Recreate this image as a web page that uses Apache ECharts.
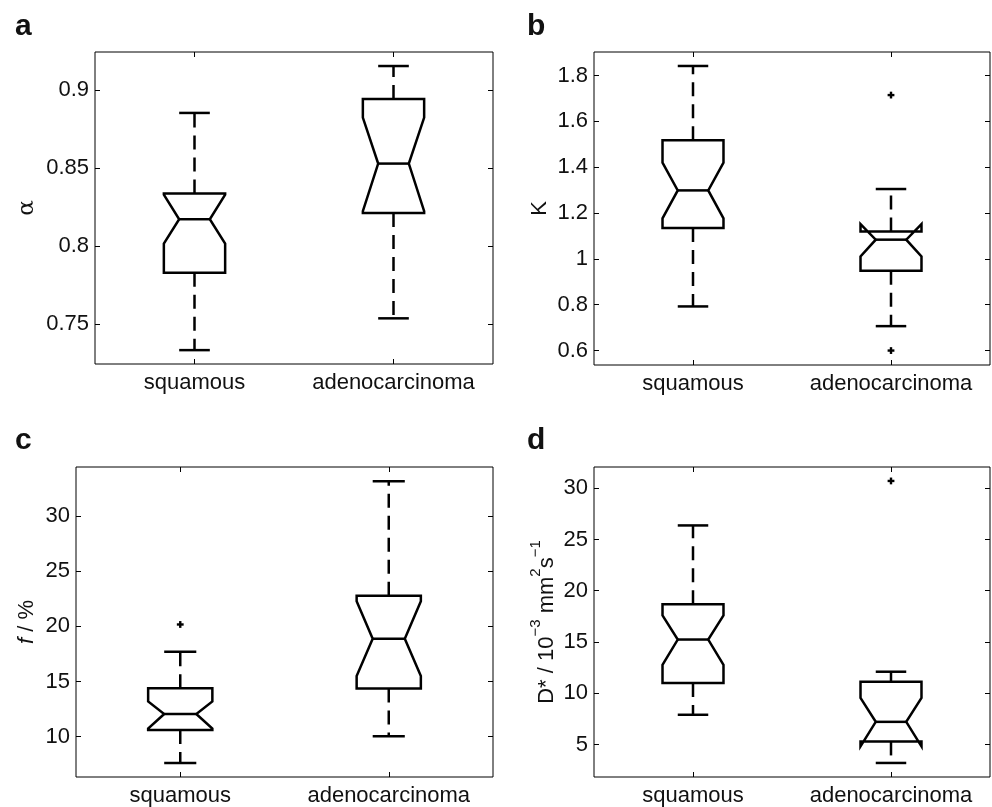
<!DOCTYPE html>
<html>
<head>
<meta charset="utf-8">
<script src="https://cdn.jsdelivr.net/npm/echarts@6/dist/echarts.min.js"></script>
<style>
html,body{margin:0;padding:0;background:#fff;}
#main{width:992px;height:807px;}
</style>
</head>
<body>
<div id="main"></div>
<script>
// categories
const categories = ['squamous', 'adenocarcinoma'];

// box stats per group: [whiskerLow, q1, notchLow, median, notchHigh, q3, whiskerHigh]
const alphaSquamous = [0.7333, 0.7829, 0.8017, 0.8173, 0.8330, 0.8338, 0.8855];
const alphaAdeno    = [0.7537, 0.8213, 0.8225, 0.8530, 0.8825, 0.8944, 0.9156];
const alphaOutliers = [];

const kSquamous = [0.7926, 1.1345, 1.177, 1.299, 1.420, 1.5175, 1.842];
const kAdeno    = [0.7066, 0.9485, 1.011, 1.084, 1.152, 1.120, 1.305];
const kOutliers = [[1, 1.715], [1, 0.600]];

const fSquamous = [7.6, 10.6, 10.74, 12.05, 13.19, 14.39, 17.7];
const fAdeno    = [10.03, 14.36, 15.5, 18.87, 22.27, 22.78, 33.16];
const fOutliers = [[0, 20.17]];

const dSquamous = [7.9, 11.0, 12.78, 15.24, 17.6, 18.67, 26.37];
const dAdeno    = [3.2, 5.3, 4.82, 7.21, 9.54, 11.13, 12.1];
const dOutliers = [[1, 30.71]];

// axis ranges and ticks
const alphaRange = [0.7244, 0.9246];
const alphaTicks = [0.75, 0.8, 0.85, 0.9];
const alphaTickLabels = ['0.75', '0.8', '0.85', '0.9'];

const kRange = [0.537, 1.903];
const kTicks = [0.6, 0.8, 1.0, 1.2, 1.4, 1.6, 1.8];
const kTickLabels = ['0.6', '0.8', '1', '1.2', '1.4', '1.6', '1.8'];

const fRange = [6.34, 34.45];
const fTicks = [10, 15, 20, 25, 30];
const fTickLabels = ['10', '15', '20', '25', '30'];

const dRange = [1.83, 32.07];
const dTicks = [5, 10, 15, 20, 25, 30];
const dTickLabels = ['5', '10', '15', '20', '25', '30'];

const FONT = 'Liberation Sans, Arial, Helvetica, sans-serif';
const INK = '#111';

const panels = [
  { letter: 'a', grid: {left: 95, top: 52, width: 398, height: 312}, letterPos: {left: 15, top: 12},
    boxes: [alphaSquamous, alphaAdeno], outliers: alphaOutliers, range: alphaRange, ticks: alphaTicks, labels: alphaTickLabels,
    name: 'α', nameGap: 56, nameStyle: {fontFamily: 'DejaVu Serif, Liberation Serif, serif', fontSize: 23, color: INK} },
  { letter: 'b', grid: {left: 594, top: 52, width: 396, height: 313}, letterPos: {left: 527, top: 12},
    boxes: [kSquamous, kAdeno], outliers: kOutliers, range: kRange, ticks: kTicks, labels: kTickLabels,
    name: 'K', nameGap: 43, nameStyle: {fontFamily: FONT, fontSize: 22, color: INK} },
  { letter: 'c', grid: {left: 76, top: 467, width: 417, height: 311}, letterPos: {left: 15, top: 426},
    boxes: [fSquamous, fAdeno], outliers: fOutliers, range: fRange, ticks: fTicks, labels: fTickLabels,
    name: '{i|f}{n| / %}', nameGap: 38,
    nameStyle: {fontFamily: FONT, fontSize: 22, color: INK,
      rich: {i: {fontStyle: 'italic', fontFamily: FONT, fontSize: 22, color: INK}, n: {fontFamily: FONT, fontSize: 22, color: INK}}} },
  { letter: 'd', grid: {left: 594, top: 467, width: 396, height: 311}, letterPos: {left: 527, top: 426},
    boxes: [dSquamous, dAdeno], outliers: dOutliers, range: dRange, ticks: dTicks, labels: dTickLabels,
    name: '{n|D* / 10}{s|−3}{n| mm}{s|2}{n|s}{s|−1}', nameGap: 36,
    nameStyle: {fontFamily: FONT, fontSize: 22, color: INK,
      rich: {n: {fontFamily: FONT, fontSize: 22, lineHeight: 30, color: INK, verticalAlign: 'bottom'},
             s: {fontFamily: FONT, fontSize: 15, lineHeight: 15, color: INK, verticalAlign: 'top'}}} }
];

function renderBox(params, api) {
  const c = api.value(0);
  const cx = api.coord([c, api.value(4)])[0];
  const y = k => api.coord([c, api.value(k)])[1];
  const wlo = y(1), q1 = y(2), nlo = y(3), med = y(4), nhi = y(5), q3 = y(6), whi = y(7);
  const band = api.size([1, 0])[0];
  const hw = band * 0.154;
  const solid = {stroke: '#000', lineWidth: 2.5, fill: 'none'};
  const dashed = {stroke: '#000', lineWidth: 2.5, fill: 'none', lineDash: [14, 8]};
  return {
    type: 'group',
    children: [
      {type: 'line', shape: {x1: cx, y1: q3, x2: cx, y2: whi}, style: dashed},
      {type: 'line', shape: {x1: cx, y1: q1, x2: cx, y2: wlo}, style: dashed},
      {type: 'line', shape: {x1: cx - hw / 2, y1: whi, x2: cx + hw / 2, y2: whi}, style: solid},
      {type: 'line', shape: {x1: cx - hw / 2, y1: wlo, x2: cx + hw / 2, y2: wlo}, style: solid},
      {type: 'polygon', shape: {points: [
        [cx - hw, q1], [cx - hw, nlo], [cx - hw / 2, med], [cx - hw, nhi], [cx - hw, q3],
        [cx + hw, q3], [cx + hw, nhi], [cx + hw / 2, med], [cx + hw, nlo], [cx + hw, q1]
      ]}, style: Object.assign({lineJoin: 'miter'}, solid)},
      {type: 'line', shape: {x1: cx - hw / 2, y1: med, x2: cx + hw / 2, y2: med}, style: solid}
    ]
  };
}

function renderPlus(params, api) {
  const p = api.coord([api.value(0), api.value(1)]);
  const s = 3.4;
  const st = {stroke: '#000', lineWidth: 2.4};
  return {
    type: 'group',
    children: [
      {type: 'line', shape: {x1: p[0] - s, y1: p[1], x2: p[0] + s, y2: p[1]}, style: st},
      {type: 'line', shape: {x1: p[0], y1: p[1] - s, x2: p[0], y2: p[1] + s}, style: st}
    ]
  };
}

const option = {
  animation: false,
  backgroundColor: '#fff',
  textStyle: {fontFamily: FONT},
  title: [], grid: [], xAxis: [], yAxis: [], series: []
};

panels.forEach((p, i) => {
  option.title.push({text: p.letter, left: p.letterPos.left, top: p.letterPos.top, padding: 0,
    textStyle: {fontFamily: FONT, fontSize: 30, fontWeight: 'bold', color: INK}});
  option.grid.push(Object.assign({show: true, borderColor: '#000', borderWidth: 1, backgroundColor: 'transparent', containLabel: false}, p.grid));
  const fmt = v => { const k = p.ticks.findIndex(t => Math.abs(t - v) < 1e-9); return k >= 0 ? p.labels[k] : ''; };
  // bottom x
  option.xAxis.push({type: 'category', gridIndex: i, data: categories, position: 'bottom',
    axisLine: {show: false}, splitLine: {show: false},
    axisTick: {show: true, inside: true, alignWithLabel: true, interval: 0, length: 5, lineStyle: {color: '#000'}},
    axisLabel: {show: true, interval: 0, hideOverlap: false, color: INK, fontFamily: FONT, fontSize: 22, margin: 8}});
  // top x
  option.xAxis.push({type: 'category', gridIndex: i, data: categories, position: 'top',
    axisLine: {show: false}, splitLine: {show: false},
    axisTick: {show: true, inside: true, alignWithLabel: true, interval: 0, length: 5, lineStyle: {color: '#000'}},
    axisLabel: {show: false, interval: 0}});
  // left y
  option.yAxis.push({type: 'value', gridIndex: i, position: 'left', min: p.range[0], max: p.range[1],
    name: p.name, nameLocation: 'middle', nameGap: p.nameGap, nameTextStyle: p.nameStyle,
    axisLine: {show: false}, splitLine: {show: false},
    axisTick: {show: true, inside: true, length: 5, customValues: p.ticks, lineStyle: {color: '#000'}},
    axisLabel: {show: true, color: INK, fontFamily: FONT, fontSize: 22, margin: 6, customValues: p.ticks, formatter: fmt}});
  // right y
  option.yAxis.push({type: 'value', gridIndex: i, position: 'right', min: p.range[0], max: p.range[1],
    axisLine: {show: false}, splitLine: {show: false},
    axisTick: {show: true, inside: true, length: 5, customValues: p.ticks, lineStyle: {color: '#000'}},
    axisLabel: {show: false, customValues: p.ticks}});
  option.series.push({type: 'custom', xAxisIndex: 2 * i, yAxisIndex: 2 * i, renderItem: renderBox,
    encode: {x: 0, y: [1, 2, 3, 4, 5, 6, 7]}, z: 5, silent: true, clip: false,
    data: p.boxes.map((b, j) => [j].concat(b))});
  if (p.outliers.length) {
    option.series.push({type: 'custom', xAxisIndex: 2 * i, yAxisIndex: 2 * i, renderItem: renderPlus,
      encode: {x: 0, y: 1}, z: 5, silent: true, clip: false, data: p.outliers});
  }
});

const chart = echarts.init(document.getElementById('main'), null, {renderer: 'canvas'});
chart.setOption(option);
</script>
</body>
</html>
